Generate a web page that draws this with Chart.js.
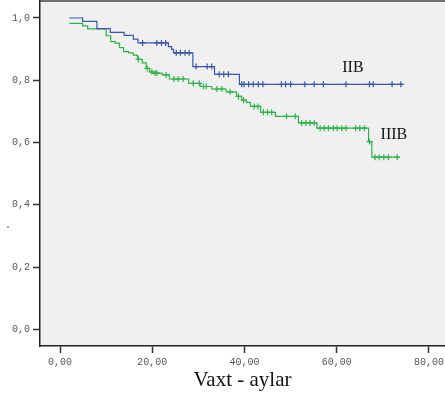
<!DOCTYPE html>
<html>
<head>
<meta charset="utf-8">
<script src="https://cdn.jsdelivr.net/npm/chart.js@4/dist/chart.umd.min.js"></script>
<style>
  html, body { margin: 0; padding: 0; background: #fff; }
  canvas { display: block; }
</style>
</head>
<body>
<canvas id="kmChart" width="445" height="395"></canvas>
<script>
// Kaplan-Meier data (months, cumulative survival)
const blueTimes = [2.0, 4.9, 8.0, 10.9, 13.9, 15.9, 16.9, 23.5, 24.2, 24.6, 28.8, 33.5, 38.9];
const blueSurv = [1.0, 0.989, 0.966, 0.954, 0.944, 0.932, 0.920, 0.908, 0.899, 0.888, 0.844, 0.819, 0.787];
const blueEnd = 74.5;
const blueCensored = [17.9, 21.0, 22.0, 22.9, 25.2, 26.1, 27.1, 28.0, 29.5, 31.9, 32.9, 34.5, 35.5, 36.5,
  39.4, 39.9, 40.9, 41.9, 43.0, 44.0, 48.0, 48.9, 50.0, 53.1, 55.1, 57.1, 62.0, 67.1, 67.9, 72.0, 73.9];

const greenTimes = [2.0, 4.9, 6.0, 10.0, 11.0, 12.0, 12.9, 13.8, 14.9, 15.9, 16.8, 17.8, 18.7, 19.4, 20.1,
  22.1, 23.7, 27.9, 30.4, 32.9, 36.0, 38.3, 39.4, 40.4, 41.3, 43.5, 46.7, 51.7, 55.7, 66.9, 67.6];
const greenSurv = [0.983, 0.975, 0.965, 0.943, 0.924, 0.919, 0.905, 0.892, 0.888, 0.881, 0.867, 0.856, 0.838,
  0.827, 0.823, 0.817, 0.804, 0.790, 0.780, 0.772, 0.763, 0.748, 0.736, 0.729, 0.716, 0.697, 0.684, 0.663,
  0.646, 0.603, 0.553];
const greenEnd = 73.7;
const greenCensored = [17.0, 18.9, 19.9, 20.6, 21.0, 23.0, 24.7, 25.6, 26.7, 28.9, 30.2, 31.1, 31.7, 34.0,
  35.1, 36.9, 38.7, 39.8, 42.1, 42.9, 44.1, 45.0, 45.9, 49.1, 51.0, 52.4, 53.3, 54.2, 55.1, 56.4, 57.3,
  58.2, 59.3, 60.1, 61.1, 62.0, 64.1, 65.0, 66.0, 67.1, 68.3, 69.2, 70.2, 71.2, 73.1];

const groupNames = ['IIB', 'IIIB'];
const groupLabelAt = [[63.5, 0.840], [72.4, 0.625]];

const xTicks = [0, 20, 40, 60, 80];
const yTicks = [0, 0.2, 0.4, 0.6, 0.8, 1.0];
const xTitle = 'Vaxt - aylar';

const blueColor = '#3a56ad';
const greenColor = '#2eb24a';

function survAt(times, surv, t) {
  let s = surv[0];
  for (let i = 0; i < times.length; i++) {
    if (times[i] <= t) s = surv[i];
  }
  return s;
}

function curve(times, surv, end) {
  const pts = times.map((t, i) => ({ x: t, y: surv[i] }));
  pts.push({ x: end, y: surv[surv.length - 1] });
  return pts;
}

function marks(times, surv, cens) {
  return cens.map(t => ({ x: t, y: survAt(times, surv, t) }));
}

// no edge padding for tick labels, the plot box is fixed
function noPad(s) {
  s.paddingTop = 0;
  s.paddingBottom = 0;
  s.paddingLeft = 0;
  s.paddingRight = 0;
}

const plotBg = {
  id: 'plotBg',
  beforeDraw(chart) {
    const { ctx, chartArea: a } = chart;
    ctx.save();
    ctx.fillStyle = '#f0f0f0';
    ctx.fillRect(a.left, a.top, a.right - a.left, a.bottom - a.top);
    ctx.strokeStyle = '#444';
    ctx.lineWidth = 1.5;
    ctx.beginPath();
    ctx.moveTo(a.left, a.top);
    ctx.lineTo(a.right, a.top);
    ctx.stroke();
    ctx.fillStyle = '#333';
    ctx.font = '10px "Liberation Mono"';
    ctx.fillText('.', 5, 228);
    ctx.restore();
  },
  afterDatasetsDraw(chart) {
    const { ctx, scales } = chart;
    ctx.save();
    ctx.fillStyle = '#111';
    ctx.font = '16px "Liberation Serif"';
    ctx.textAlign = 'center';
    ctx.textBaseline = 'middle';
    groupNames.forEach((name, i) => {
      ctx.fillText(name, scales.x.getPixelForValue(groupLabelAt[i][0]),
        scales.y.getPixelForValue(groupLabelAt[i][1]));
    });
    ctx.restore();
  }
};

const tickFont = { family: '"Liberation Mono"', size: 10 };

new Chart(document.getElementById('kmChart').getContext('2d'), {
  type: 'scatter',
  data: {
    datasets: [
      {
        label: 'IIB',
        data: curve(blueTimes, blueSurv, blueEnd),
        showLine: true,
        stepped: true,
        borderColor: blueColor,
        borderWidth: 1.2,
        pointRadius: 0
      },
      {
        label: 'IIIB',
        data: curve(greenTimes, greenSurv, greenEnd),
        showLine: true,
        stepped: true,
        borderColor: greenColor,
        borderWidth: 1.2,
        pointRadius: 0
      },
      {
        label: 'IIB censored',
        data: marks(blueTimes, blueSurv, blueCensored),
        pointStyle: 'cross',
        pointRadius: 3,
        borderColor: blueColor,
        borderWidth: 1.2
      },
      {
        label: 'IIIB censored',
        data: marks(greenTimes, greenSurv, greenCensored),
        pointStyle: 'cross',
        pointRadius: 3,
        borderColor: greenColor,
        borderWidth: 1.2
      }
    ]
  },
  options: {
    responsive: false,
    animation: false,
    devicePixelRatio: 1,
    layout: { autoPadding: false, padding: { top: 1, right: 0, left: 0, bottom: 0 } },
    plugins: {
      legend: { display: false },
      tooltip: { enabled: false }
    },
    scales: {
      x: {
        type: 'linear',
        min: -4.34,
        max: 83.47,
        afterBuildTicks: s => { s.ticks = xTicks.map(v => ({ value: v })); },
        afterFit: s => { s.height = 49; noPad(s); },
        ticks: {
          font: tickFont,
          color: '#555',
          padding: 3,
          maxRotation: 0,
          callback: v => v.toFixed(2).replace('.', ',')
        },
        grid: { drawOnChartArea: false, tickLength: 7, tickColor: '#333', tickWidth: 1.5 },
        border: { color: '#222', width: 1.5 },
        title: {
          display: true,
          text: xTitle,
          font: { family: '"Liberation Serif"', size: 21 },
          color: '#111',
          padding: { top: 0, bottom: 2 }
        }
      },
      y: {
        type: 'linear',
        min: -0.0536,
        max: 1.0546,
        afterBuildTicks: s => { s.ticks = yTicks.map(v => ({ value: v })); },
        afterFit: s => { s.width = 40; noPad(s); },
        ticks: {
          font: tickFont,
          color: '#555',
          padding: 3,
          callback: v => v.toFixed(1).replace('.', ',')
        },
        grid: { drawOnChartArea: false, tickLength: 7, tickColor: '#333', tickWidth: 1.5 },
        border: { color: '#222', width: 1.5 }
      }
    }
  },
  plugins: [plotBg]
});
</script>
</body>
</html>
